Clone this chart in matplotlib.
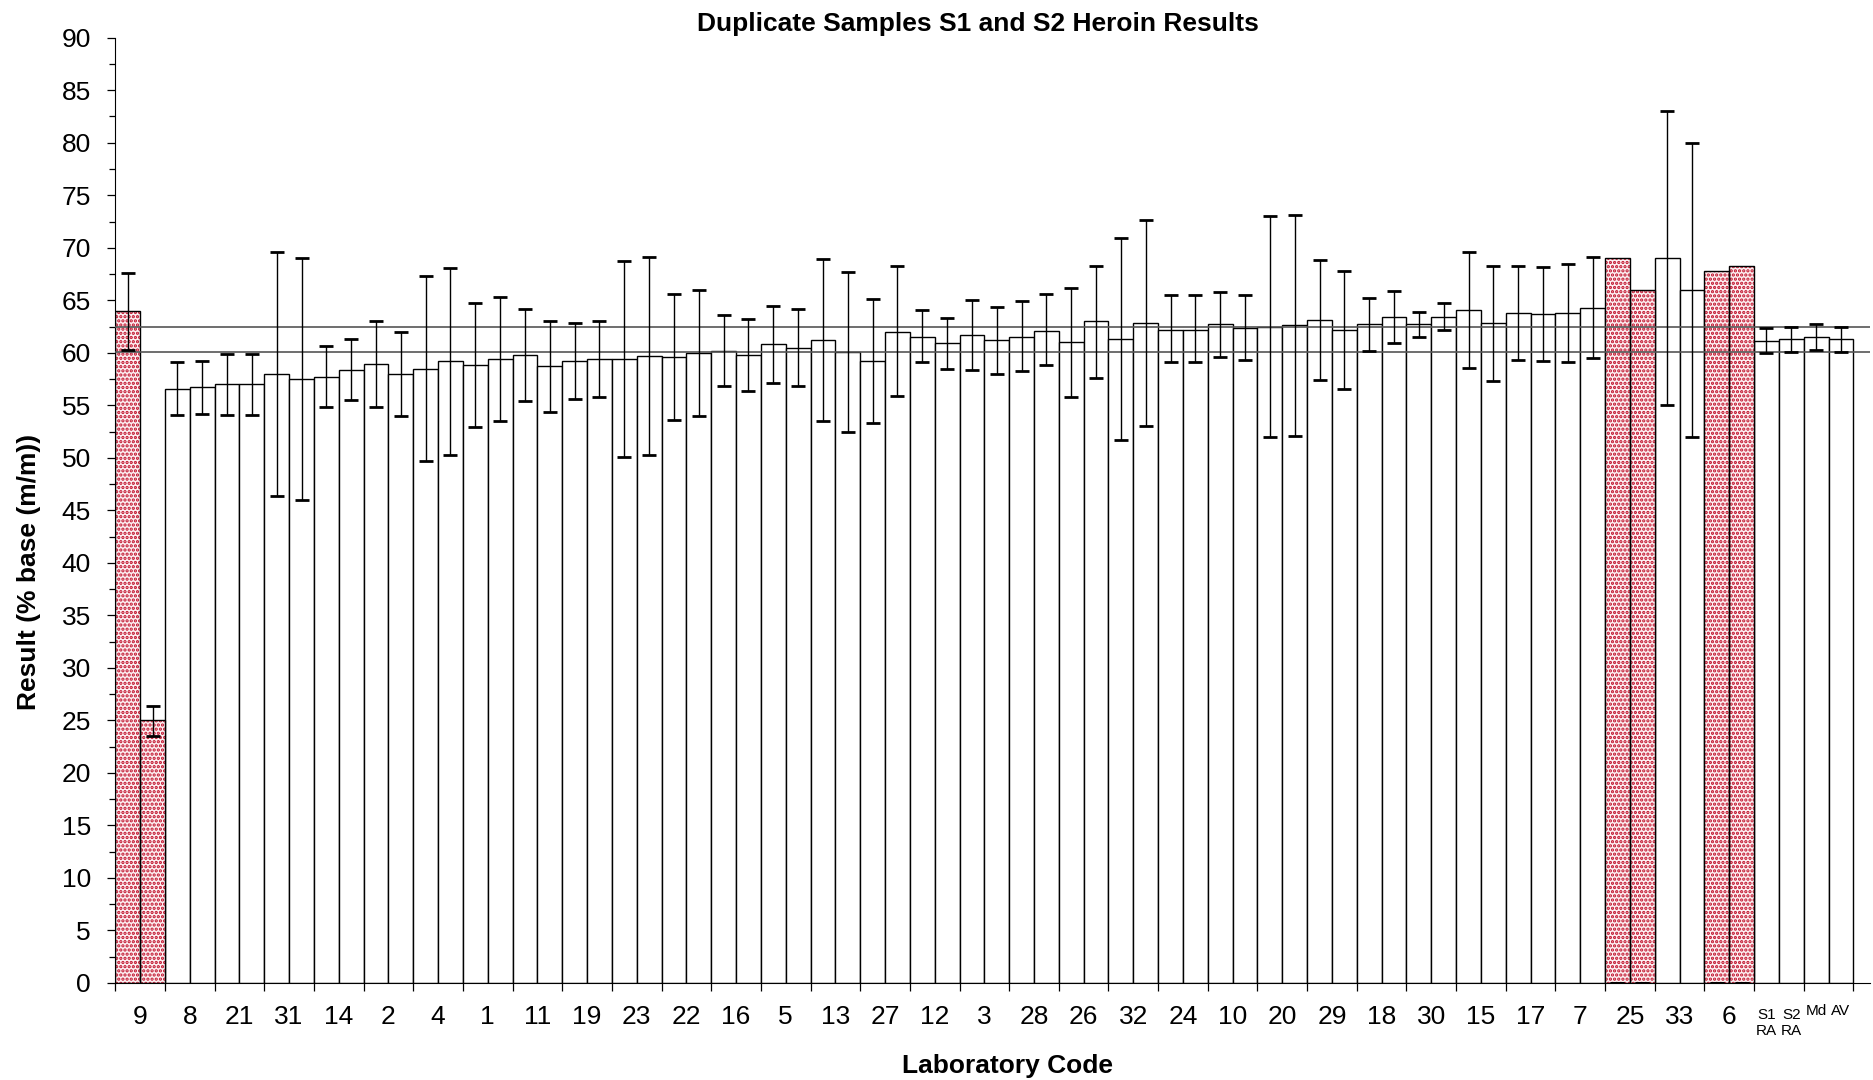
import matplotlib
matplotlib.use('Agg')
import matplotlib.pyplot as plt
import numpy as np

plt.rcParams['font.family'] = ['Liberation Sans', 'DejaVu Sans']
plt.rcParams['hatch.linewidth'] = 1.6

# laboratory codes, in plotted order
labs = ['9', '8', '21', '31', '14', '2', '4', '1', '11', '19', '23', '22', '16', '5',
        '13', '27', '12', '3', '28', '26', '32', '24', '10', '20', '29', '18', '30',
        '15', '17', '7', '25', '33', '6']
outlier_labs = ['9', '25', '6']

# sample S1 / S2 results (% base m/m)
s1 = [64.0, 56.6, 57.0, 58.0, 57.7, 58.9, 58.5, 58.8, 59.8, 59.2, 59.4, 59.6, 60.2, 60.8,
      61.2, 59.2, 61.5, 61.7, 61.5, 61.0, 61.3, 62.2, 62.7, 62.5, 63.1, 62.7, 62.7,
      64.1, 63.8, 63.8, 69.0, 69.0, 67.8]
s2 = [25.0, 56.7, 57.0, 57.5, 58.4, 58.0, 59.2, 59.4, 58.7, 59.4, 59.7, 60.0, 59.8, 60.5,
      60.1, 62.0, 60.9, 61.2, 62.1, 63.0, 62.8, 62.2, 62.4, 62.6, 62.2, 63.4, 63.4,
      62.8, 63.7, 64.3, 66.0, 66.0, 68.3]

# error bar ends (low, high)
s1_lo = [60.3, 54.1, 54.1, 46.4, 54.8, 54.8, 49.7, 52.9, 55.4, 55.6, 50.1, 53.6, 56.8, 57.1,
         53.5, 53.3, 59.1, 58.4, 58.3, 55.8, 51.7, 59.1, 59.6, 52.0, 57.4, 60.2, 61.5,
         58.6, 59.3, 59.1, 0.0, 55.0, 0.0]
s1_hi = [67.6, 59.1, 59.9, 69.6, 60.6, 63.0, 67.3, 64.7, 64.2, 62.8, 68.7, 65.6, 63.6, 64.5,
         68.9, 65.1, 64.1, 65.0, 64.9, 66.2, 70.9, 65.5, 65.8, 73.0, 68.8, 65.2, 63.9,
         69.6, 68.3, 68.5, 0.0, 83.0, 0.0]
s2_lo = [23.5, 54.2, 54.1, 46.0, 55.5, 54.0, 50.3, 53.5, 54.4, 55.8, 50.3, 54.0, 56.4, 56.8,
         52.5, 55.9, 58.5, 58.0, 58.8, 57.6, 53.0, 59.1, 59.3, 52.1, 56.6, 60.9, 62.2,
         57.3, 59.2, 59.5, 0.0, 52.0, 0.0]
s2_hi = [26.4, 59.2, 59.9, 69.0, 61.3, 62.0, 68.1, 65.3, 63.0, 63.0, 69.1, 66.0, 63.2, 64.2,
         67.7, 68.3, 63.3, 64.4, 65.6, 68.3, 72.6, 65.5, 65.5, 73.1, 67.8, 65.9, 64.7,
         68.3, 68.2, 69.1, 0.0, 80.0, 0.0]

# summary bars
ref_labels = ['S1\nRA', 'S2\nRA', 'Md', 'AV']
ref_vals = [61.15, 61.3, 61.5, 61.3]
ref_lo = [60.0, 60.1, 60.3, 60.1]
ref_hi = [62.4, 62.5, 62.7, 62.5]

# horizontal reference lines
ref_lines = [60.1, 62.5]

# interleave S1/S2 per lab, then append summary bars
vals = np.concatenate([np.column_stack([s1, s2]).ravel(), ref_vals])
lo = np.concatenate([np.column_stack([s1_lo, s2_lo]).ravel(), ref_lo])
hi = np.concatenate([np.column_stack([s1_hi, s2_hi]).ravel(), ref_hi])
is_out = np.concatenate([np.repeat([l in outlier_labs for l in labs], 2),
                         np.zeros(len(ref_vals), bool)])
n = len(vals)
x = np.arange(n) + 0.5

fig = plt.figure(figsize=(18.74, 10.8), dpi=100)
ax = fig.add_axes([115.3 / 1874, 97 / 1080, 1754.7 / 1874, 945.3 / 1080])

# plain bars
ax.bar(x[~is_out], vals[~is_out], width=1.0, facecolor='white', edgecolor='black',
       linewidth=1.0, zorder=2)
# outlier bars: red dotted fill, then black outline
ax.bar(x[is_out], vals[is_out], width=1.0, facecolor='#fdf0f2', edgecolor='#c0102a',
       hatch='....', linewidth=0, zorder=2)
ax.bar(x[is_out], vals[is_out], width=1.0, fill=False, edgecolor='black',
       linewidth=1.0, zorder=2)

for v in ref_lines:
    ax.axhline(v, color='#555555', linewidth=1.2, zorder=3)

ax.errorbar(x, (lo + hi) / 2, yerr=(hi - lo) / 2, fmt='none', ecolor='black',
            elinewidth=1.0, capsize=4.8, capthick=2.0, zorder=4)

ax.set_xlim(0, 70.67)
ax.set_ylim(0, 90)

ax.spines['top'].set_visible(False)
ax.spines['right'].set_visible(False)

ax.set_yticks(np.arange(0, 91, 5))
ax.set_yticks(np.arange(0, 90, 2.5), minor=True)
ax.tick_params(axis='y', which='major', direction='out', length=5.5, width=0.9,
               labelsize=19, pad=12)
ax.tick_params(axis='y', which='minor', direction='out', length=4, width=0.9)

ax.set_xticks(np.arange(0, n + 1, 2))
ax.set_xticklabels([])
ax.set_xticks(np.arange(len(labs)) * 2 + 1, labs, minor=True)
ax.tick_params(axis='x', which='major', direction='out', length=6, width=0.9)
ax.tick_params(axis='x', which='minor', length=0, labelsize=19, pad=15.5)

for i, lbl in enumerate(ref_labels):
    xi = x[2 * len(labs) + i]
    off = -18 if '\n' in lbl else -15
    ax.annotate(lbl, xy=(xi, 0), xycoords=('data', 'axes fraction'),
                xytext=(0, off), textcoords='offset points', ha='center', va='top',
                fontsize=11, linespacing=1.2)

fig.text(978 / 1874, 1 - 24 / 1080, 'Duplicate Samples S1 and S2 Heroin Results',
         ha='center', va='center', fontsize=19, fontweight='bold')
fig.text(1008 / 1874, 1 - 1066 / 1080, 'Laboratory Code', ha='center', va='center',
         fontsize=19, fontweight='bold')
fig.text(29 / 1874, 1 - 572 / 1080, 'Result (% base (m/m))', ha='center', va='center',
         rotation=90, fontsize=19, fontweight='bold')

plt.savefig('out.png', dpi=100)
